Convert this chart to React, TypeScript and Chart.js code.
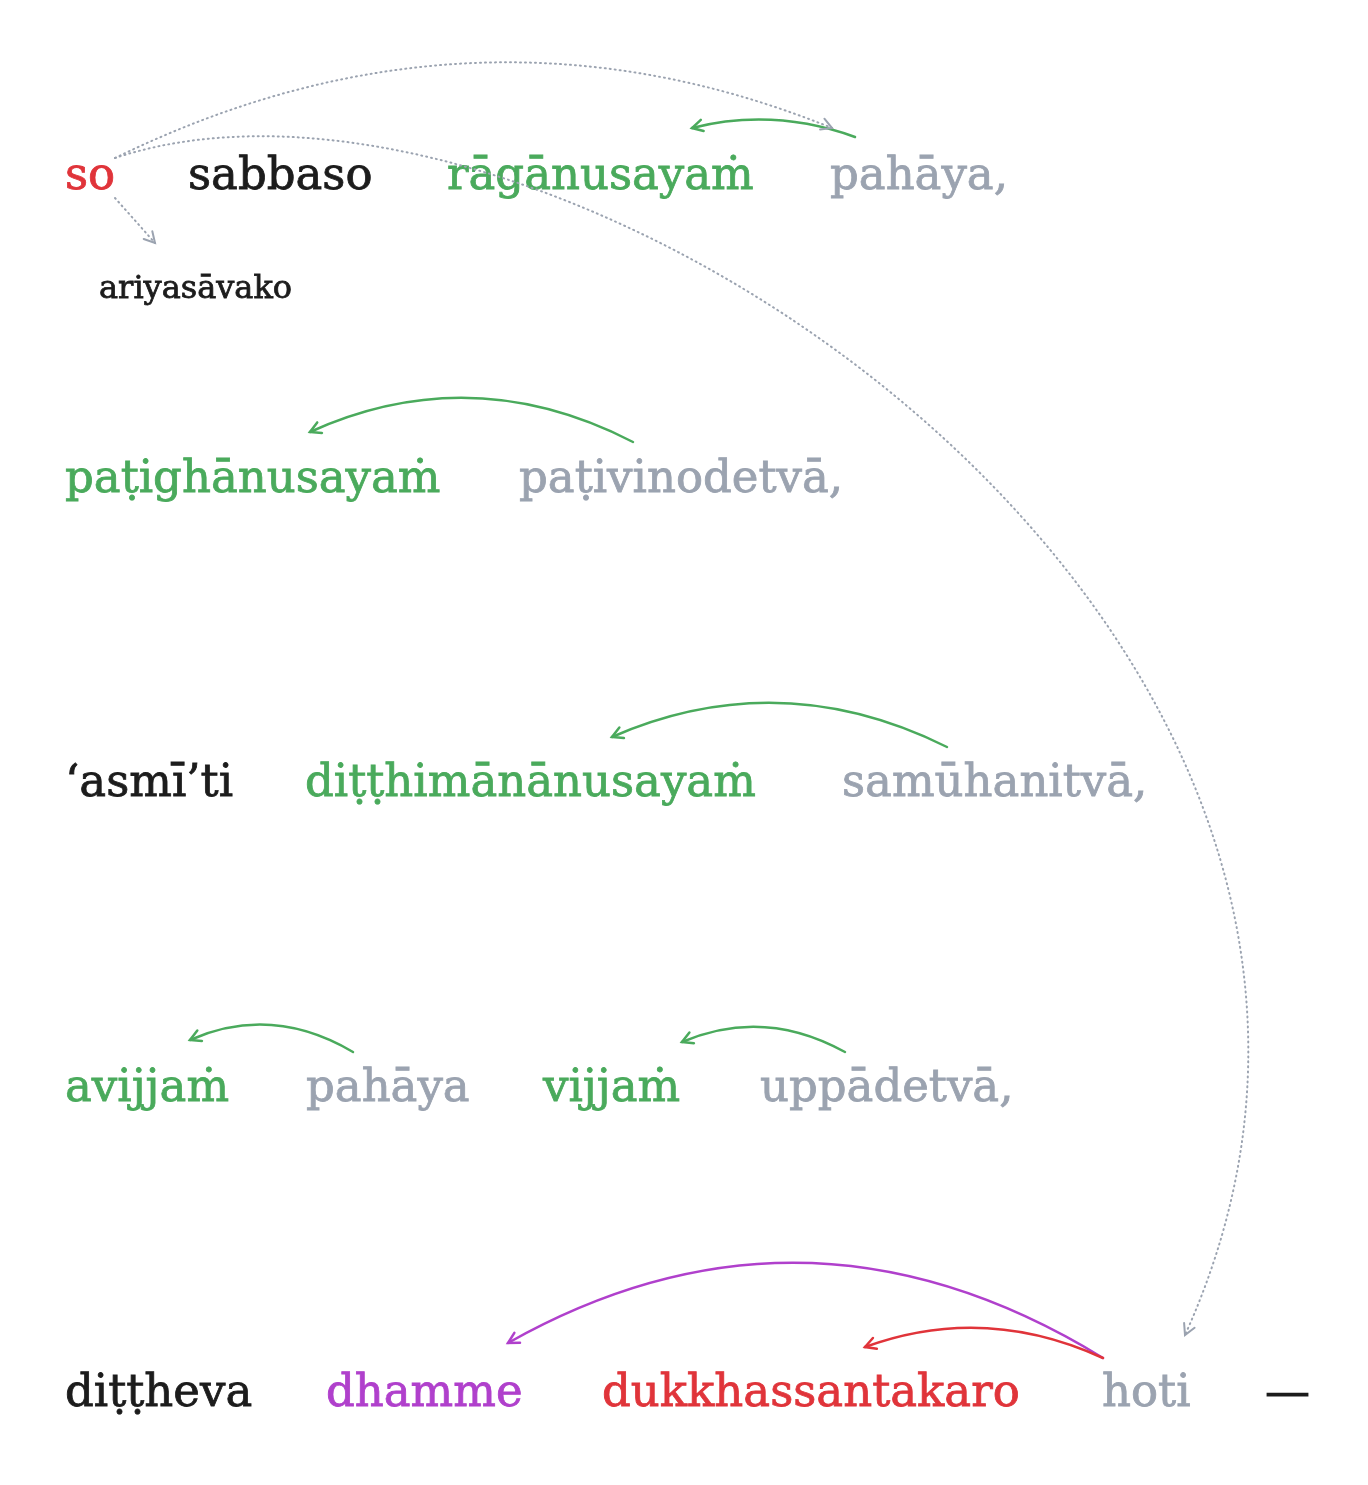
import { useEffect, useRef } from 'react';
import { Chart, registerables } from 'chart.js';

Chart.register(...registerables);

const GREEN = '#4aaa5c';
const GRAY = '#9ba3b0';
const RED = '#e0343a';
const PURPLE = '#b040cc';
const BLACK = '#1c1c1c';

// words: text, x (left), baseline y, colour, font size
const WORDS = ['so', 'sabbaso', 'rāgānusayaṁ', 'pahāya,', 'ariyasāvako',
  'paṭighānusayaṁ', 'paṭivinodetvā,',
  '‘asmī’ti', 'diṭṭhimānānusayaṁ', 'samūhanitvā,',
  'avijjaṁ', 'pahāya', 'vijjaṁ', 'uppādetvā,',
  'diṭṭheva', 'dhamme', 'dukkhassantakaro', 'hoti', '—'];
const WORD_X = [65, 188, 447, 830, 99, 65, 519, 65, 305, 842, 65, 306, 543, 760, 65, 326, 602, 1102, 1265];
const WORD_Y = [189, 189, 189, 189, 298, 492, 492, 796, 796, 796, 1101, 1101, 1101, 1101, 1406, 1406, 1406, 1406, 1406];
const WORD_COLOR = [RED, BLACK, GREEN, GRAY, BLACK, GREEN, GRAY, BLACK, GREEN, GRAY, GREEN, GRAY, GREEN, GRAY, BLACK, PURPLE, RED, GRAY, BLACK];
const WORD_SIZE = [45, 45, 45, 45, 32, 45, 45, 45, 45, 45, 45, 45, 45, 45, 45, 45, 45, 45, 45];

// arrows: start, end, peak (quadratic) colour, dotted
const ARROW_X0 = [855, 115, 633, 947, 353, 845, 1103, 1103];
const ARROW_Y0 = [137, 158, 442, 747, 1052, 1052, 1358, 1358];
const ARROW_X1 = [692, 832, 310, 612, 190, 682, 508, 865];
const ARROW_Y1 = [128, 128, 432, 737, 1040, 1042, 1343, 1347];
const ARROW_PEAK = [120, 63, 398, 703, 1025, 1027, 1263, 1328];
const ARROW_COLOR = [GREEN, GRAY, GREEN, GREEN, GREEN, GREEN, PURPLE, RED];
const ARROW_DOTTED = [false, true, false, false, false, false, false, false];

// long dotted arc so -> hoti (cubic), and short so -> ariyasāvako
const LONG_ARC = [[115, 158], [560, 10], [1500, 640], [1185, 1335]];
const SHORT_LINK = [[115, 198], [155, 243]];

const FONT = '"DejaVu Serif", "Liberation Serif", serif';

function head(ctx: CanvasRenderingContext2D, x: number, y: number, ang: number) {
  const L = 12, w = 0.5;
  ctx.beginPath();
  ctx.setLineDash([]);
  ctx.moveTo(x - L * Math.cos(ang - w), y - L * Math.sin(ang - w));
  ctx.lineTo(x, y);
  ctx.lineTo(x - L * Math.cos(ang + w), y - L * Math.sin(ang + w));
  ctx.stroke();
}

const diagramPlugin = {
  id: 'diagram',
  afterDatasetsDraw(chart: any) {
    const { ctx, scales } = chart;
    const px = (v: number) => scales.x.getPixelForValue(v);
    const py = (v: number) => scales.y.getPixelForValue(v);
    ctx.save();
    ctx.textBaseline = 'alphabetic';
    WORDS.forEach((w, i) => {
      ctx.font = `${WORD_SIZE[i]}px ${FONT}`;
      ctx.fillStyle = WORD_COLOR[i];
      ctx.strokeStyle = WORD_COLOR[i];
      ctx.lineWidth = 0.8;
      ctx.fillText(w, px(WORD_X[i]), py(WORD_Y[i]));
      ctx.strokeText(w, px(WORD_X[i]), py(WORD_Y[i]));
    });
    ctx.lineCap = 'round';
    ARROW_X0.forEach((_, i) => {
      const x0 = px(ARROW_X0[i]), y0 = py(ARROW_Y0[i]);
      const x1 = px(ARROW_X1[i]), y1 = py(ARROW_Y1[i]);
      const cx = (x0 + x1) / 2;
      const cy = 2 * py(ARROW_PEAK[i]) - (y0 + y1) / 2;
      ctx.strokeStyle = ARROW_COLOR[i];
      ctx.lineWidth = ARROW_DOTTED[i] ? 2 : 2.5;
      ctx.setLineDash(ARROW_DOTTED[i] ? [1, 4] : []);
      ctx.beginPath();
      ctx.moveTo(x0, y0);
      ctx.quadraticCurveTo(cx, cy, x1, y1);
      ctx.stroke();
      head(ctx, x1, y1, Math.atan2(y1 - cy, x1 - cx));
    });
    ctx.strokeStyle = GRAY;
    ctx.lineWidth = 2;
    const p = LONG_ARC.map(([x, y]) => [px(x), py(y)]);
    ctx.setLineDash([1, 4]);
    ctx.beginPath();
    ctx.moveTo(p[0][0], p[0][1]);
    ctx.bezierCurveTo(p[1][0], p[1][1], p[2][0], p[2][1], p[3][0], p[3][1]);
    ctx.stroke();
    head(ctx, p[3][0], p[3][1], Math.atan2(p[3][1] - p[2][1], p[3][0] - p[2][0]));
    const s = SHORT_LINK.map(([x, y]) => [px(x), py(y)]);
    ctx.setLineDash([1, 4]);
    ctx.beginPath();
    ctx.moveTo(s[0][0], s[0][1]);
    ctx.lineTo(s[1][0], s[1][1]);
    ctx.stroke();
    head(ctx, s[1][0], s[1][1], Math.atan2(s[1][1] - s[0][1], s[1][0] - s[0][0]));
    ctx.restore();
  },
};

export default function App() {
  const canvasRef = useRef<HTMLCanvasElement>(null);

  useEffect(() => {
    if (!canvasRef.current) return;
    const chart = new Chart(canvasRef.current, {
      type: 'scatter',
      data: {
        datasets: [{
          data: WORDS.map((_, i) => ({ x: WORD_X[i], y: WORD_Y[i] })),
          pointRadius: 0,
        }],
      },
      options: {
        animation: false,
        responsive: true,
        maintainAspectRatio: false,
        layout: { padding: 0 },
        plugins: { legend: { display: false }, tooltip: { enabled: false } },
        scales: {
          x: { type: 'linear', min: 0, max: 1368, display: false },
          y: { type: 'linear', min: 0, max: 1485, reverse: true, display: false },
        },
      },
      plugins: [diagramPlugin],
    });
    return () => { chart.destroy(); };
  }, []);

  return (
    <div style={{ position: 'fixed', left: 0, top: 0, width: 1368, height: 1485, background: '#fff' }}>
      <canvas ref={canvasRef} />
    </div>
  );
}
